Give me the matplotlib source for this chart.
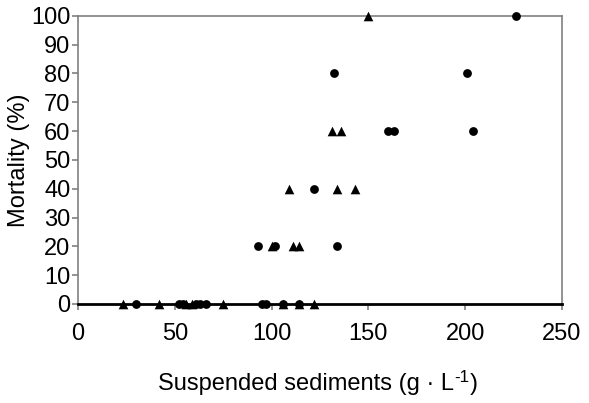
import matplotlib
matplotlib.use("Agg")
import matplotlib.pyplot as plt

plt.rcParams['font.family'] = ['Liberation Sans', 'DejaVu Sans']

# Circles series
circle_x = [30, 52, 54, 61, 63, 66, 95, 97, 106, 114, 93, 102, 134, 122, 160, 163, 204, 132, 201, 226]
circle_y = [0, 0, 0, 0, 0, 0, 0, 0, 0, 0, 20, 20, 20, 40, 60, 60, 60, 80, 80, 100]

# Triangles series
tri_x = [23, 42, 56, 59, 75, 106, 114, 122, 100, 111, 114, 109, 134, 143, 131, 136, 150]
tri_y = [0, 0, 0, 0, 0, 0, 0, 0, 20, 20, 20, 40, 40, 40, 60, 60, 100]

x_ticks = [0, 50, 100, 150, 200, 250]
y_ticks = [0, 10, 20, 30, 40, 50, 60, 70, 80, 90, 100]

xlabel_main = 'Suspended sediments (g · L'
xlabel_sup = '-1'
xlabel_end = ')'
ylabel = 'Mortality (%)'

W, H = 589, 403
fig = plt.figure(figsize=(W/100, H/100), dpi=100)
ax = fig.add_axes([78/W, 1 - 304/H, (562-78)/W, (304-15.7)/H])

ax.set_xlim(0, 250)
ax.set_ylim(0, 100)

gray = '#808080'
for s in ['left', 'right', 'top']:
    ax.spines[s].set_color(gray)
    ax.spines[s].set_linewidth(1.2)
ax.spines['bottom'].set_color('black')
ax.spines['bottom'].set_linewidth(2.0)

ax.scatter(tri_x, tri_y, marker='^', s=48, color='black', zorder=3, clip_on=False, linewidths=0)
ax.scatter(circle_x, circle_y, marker='o', s=40, color='black', zorder=3, clip_on=False, linewidths=0)

fs = 17
ax.set_xticks(x_ticks)
ax.set_yticks(y_ticks)
ax.tick_params(axis='both', direction='out', length=4, width=1.2, color=gray, labelsize=fs)
ax.tick_params(axis='x', pad=10)
ax.tick_params(axis='y', pad=1.5)

ax.set_ylabel(ylabel, fontsize=fs, labelpad=1)

# x label assembled from pieces so the superscript uses a plain hyphen
ybase = 1 - 390/H
t1 = fig.text(0, ybase, xlabel_main, fontsize=fs, ha='left', va='baseline')
t2 = fig.text(0, ybase, xlabel_sup, fontsize=fs*0.72, ha='left', va='baseline')
t3 = fig.text(0, ybase, xlabel_end, fontsize=fs, ha='left', va='baseline')
fig.canvas.draw()
r = fig.canvas.get_renderer()
w1 = t1.get_window_extent(r).width
w2 = t2.get_window_extent(r).width
w3 = t3.get_window_extent(r).width
total = w1 + w2 + w3
center = 318
x0 = center - total/2
t1.set_x(x0/W)
t2.set_x((x0 + w1)/W)
t2.set_y(ybase + 8/H)
t3.set_x((x0 + w1 + w2)/W)

fig.savefig('out.png', dpi=100, facecolor='white')
